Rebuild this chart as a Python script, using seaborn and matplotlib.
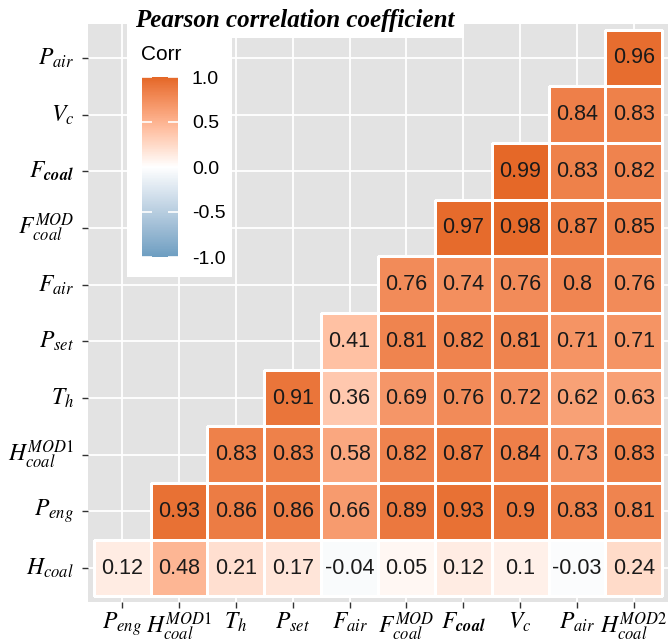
import numpy as np
import pandas as pd
import matplotlib
matplotlib.use("Agg")
import matplotlib.pyplot as plt
from matplotlib.colors import ListedColormap, to_rgb
from matplotlib.patches import Rectangle
import seaborn as sns

# Column (x) and row (y, top to bottom) variables
col_names = ["P_eng", "H_MOD1", "T_h", "P_set", "F_air",
             "F_MOD", "F_coal", "V_c", "P_air", "H_MOD2"]
row_names = ["P_air", "V_c", "F_coal", "F_MOD", "F_air",
             "P_set", "T_h", "H_MOD1", "P_eng", "H_coal"]

# lower-triangle values of each row, right aligned in the columns above
r_P_air = [0.96]
r_V_c = [0.84, 0.83]
r_F_coal = [0.99, 0.83, 0.82]
r_F_MOD = [0.97, 0.98, 0.87, 0.85]
r_F_air = [0.76, 0.74, 0.76, 0.8, 0.76]
r_P_set = [0.41, 0.81, 0.82, 0.81, 0.71, 0.71]
r_T_h = [0.91, 0.36, 0.69, 0.76, 0.72, 0.62, 0.63]
r_H_MOD1 = [0.83, 0.83, 0.58, 0.82, 0.87, 0.84, 0.73, 0.83]
r_P_eng = [0.93, 0.86, 0.86, 0.66, 0.89, 0.93, 0.9, 0.83, 0.81]
r_H_coal = [0.12, 0.48, 0.21, 0.17, -0.04, 0.05, 0.12, 0.1, -0.03, 0.24]

rows = [r_P_air, r_V_c, r_F_coal, r_F_MOD, r_F_air,
        r_P_set, r_T_h, r_H_MOD1, r_P_eng, r_H_coal]

tex = {
    "P_eng": r"$P_{eng}$", "H_MOD1": r"$H_{coal}^{MOD1}$", "T_h": r"$T_h$",
    "P_set": r"$P_{set}$", "F_air": r"$F_{air}$", "F_MOD": r"$F_{coal}^{MOD}$",
    "F_coal": r"$F_{\boldsymbol{coal}}$", "V_c": r"$V_c$", "P_air": r"$P_{air}$",
    "H_MOD2": r"$H_{coal}^{MOD2}$", "H_coal": r"$H_{coal}$",
}

n = len(col_names)
mat = np.full((len(row_names), n), np.nan)
for i, vals in enumerate(rows):
    mat[i, n - len(vals):] = vals
df = pd.DataFrame(mat, index=row_names, columns=col_names)


# diverging gradient interpolated in CIELAB (like ggplot's gradient2)
def to_lab(c):
    rgb = np.array(to_rgb(c))
    lin = np.where(rgb <= 0.04045, rgb / 12.92, ((rgb + 0.055) / 1.055) ** 2.4)
    M = np.array([[0.4124, 0.3576, 0.1805], [0.2126, 0.7152, 0.0722], [0.0193, 0.1192, 0.9505]])
    xyz = M @ lin / np.array([0.95047, 1.0, 1.08883])
    f = np.where(xyz > 0.008856, np.cbrt(xyz), 7.787 * xyz + 16 / 116)
    return np.array([116 * f[1] - 16, 500 * (f[0] - f[1]), 200 * (f[1] - f[2])])


def from_lab(lab):
    fy = (lab[0] + 16) / 116
    f = np.array([fy + lab[1] / 500, fy, fy - lab[2] / 200])
    xyz = np.where(f ** 3 > 0.008856, f ** 3, (f - 16 / 116) / 7.787) * np.array([0.95047, 1.0, 1.08883])
    Minv = np.array([[3.2406, -1.5372, -0.4986], [-0.9689, 1.8758, 0.0415], [0.0557, -0.2040, 1.0570]])
    lin = np.clip(Minv @ xyz, 0, 1)
    return np.where(lin <= 0.0031308, 12.92 * lin, 1.055 * lin ** (1 / 2.4) - 0.055)


lo, mid, hi = to_lab("#6D9EC1"), to_lab("white"), to_lab("#E46726")
cols = []
for t in np.linspace(-1, 1, 256):
    end = lo if t < 0 else hi
    cols.append(np.clip(from_lab(mid + abs(t) * (end - mid)), 0, 1))
cmap = ListedColormap(cols)

plt.rcParams["mathtext.fontset"] = "stix"

W, H = 669, 643
fig = plt.figure(figsize=(W / 100, H / 100), dpi=100)
fig.patch.set_facecolor("white")

# panel: 88..668 px horizontally, 24..602 px vertically
ax = fig.add_axes([88 / W, (H - 602) / H, 580 / W, 578 / H])
ax.set_facecolor("#E3E3E3")

sns.heatmap(df, ax=ax, cmap=cmap, vmin=-1, vmax=1, annot=True, fmt="g",
            annot_kws={"color": "#1a1a1a", "fontsize": 15.5, "family": "Liberation Sans"},
            linewidths=1.0, linecolor="white", cbar=False)
mesh = ax.collections[0]
empty = np.isnan(mat).ravel()
mesh.set_edgecolor([(1, 1, 1, 0) if e else (1, 1, 1, 1) for e in empty])

for k in range(n):
    ax.axvline(k + 0.5, color="white", lw=1.3, zorder=0.5)
    ax.axhline(k + 0.5, color="white", lw=1.3, zorder=0.5)
ax.set_xlim(-0.1, n + 0.1)
ax.set_ylim(n + 0.1, -0.1)

ax.set_xticks(np.arange(n) + 0.5)
ax.set_yticks(np.arange(n) + 0.5)
ax.set_xticklabels([tex[c] for c in col_names], rotation=0, fontsize=17)
ax.set_yticklabels([tex[r] for r in row_names], rotation=0, fontsize=17)
ax.tick_params(length=4, width=1, color="#333333", labelcolor="black")
ax.tick_params(axis="x", pad=2)
ax.tick_params(axis="y", pad=6)
ax.set_xlabel("")
ax.set_ylabel("")
for s in ax.spines.values():
    s.set_visible(False)

# white boxes behind title and legend
fig.patches.append(Rectangle((127 / W, (H - 38) / H), 337 / W, 38 / H,
                             transform=fig.transFigure, facecolor="white",
                             edgecolor="none", zorder=1))
fig.patches.append(Rectangle((127 / W, (H - 277) / H), 105 / W, 240 / H,
                             transform=fig.transFigure, facecolor="white",
                             edgecolor="none", zorder=1))

fig.text(295 / W, (H - 21) / H, "Pearson correlation coefficient",
         ha="center", va="center", fontsize=18, family="Liberation Serif",
         weight="bold", style="italic", zorder=3)
fig.text(141 / W, (H - 55) / H, "Corr", ha="left", va="center",
         fontsize=15, family="Liberation Sans", zorder=3)

cax = fig.add_axes([142 / W, (H - 257) / H, 36 / W, 180 / H])
cax.set_zorder(3)
cb = fig.colorbar(ax.collections[0], cax=cax, ticks=[-1, -0.5, 0, 0.5, 1])
cb.outline.set_visible(False)
cb.ax.set_yticklabels(["-1.0", "-0.5", "0.0", "0.5", "1.0"])
cax.tick_params(direction="in", length=7, width=1.2, color="white",
                left=True, right=True, labelsize=14, pad=10)
for t in cax.get_yticklabels():
    t.set_family("Liberation Sans")

fig.savefig("out.png", dpi=100)
